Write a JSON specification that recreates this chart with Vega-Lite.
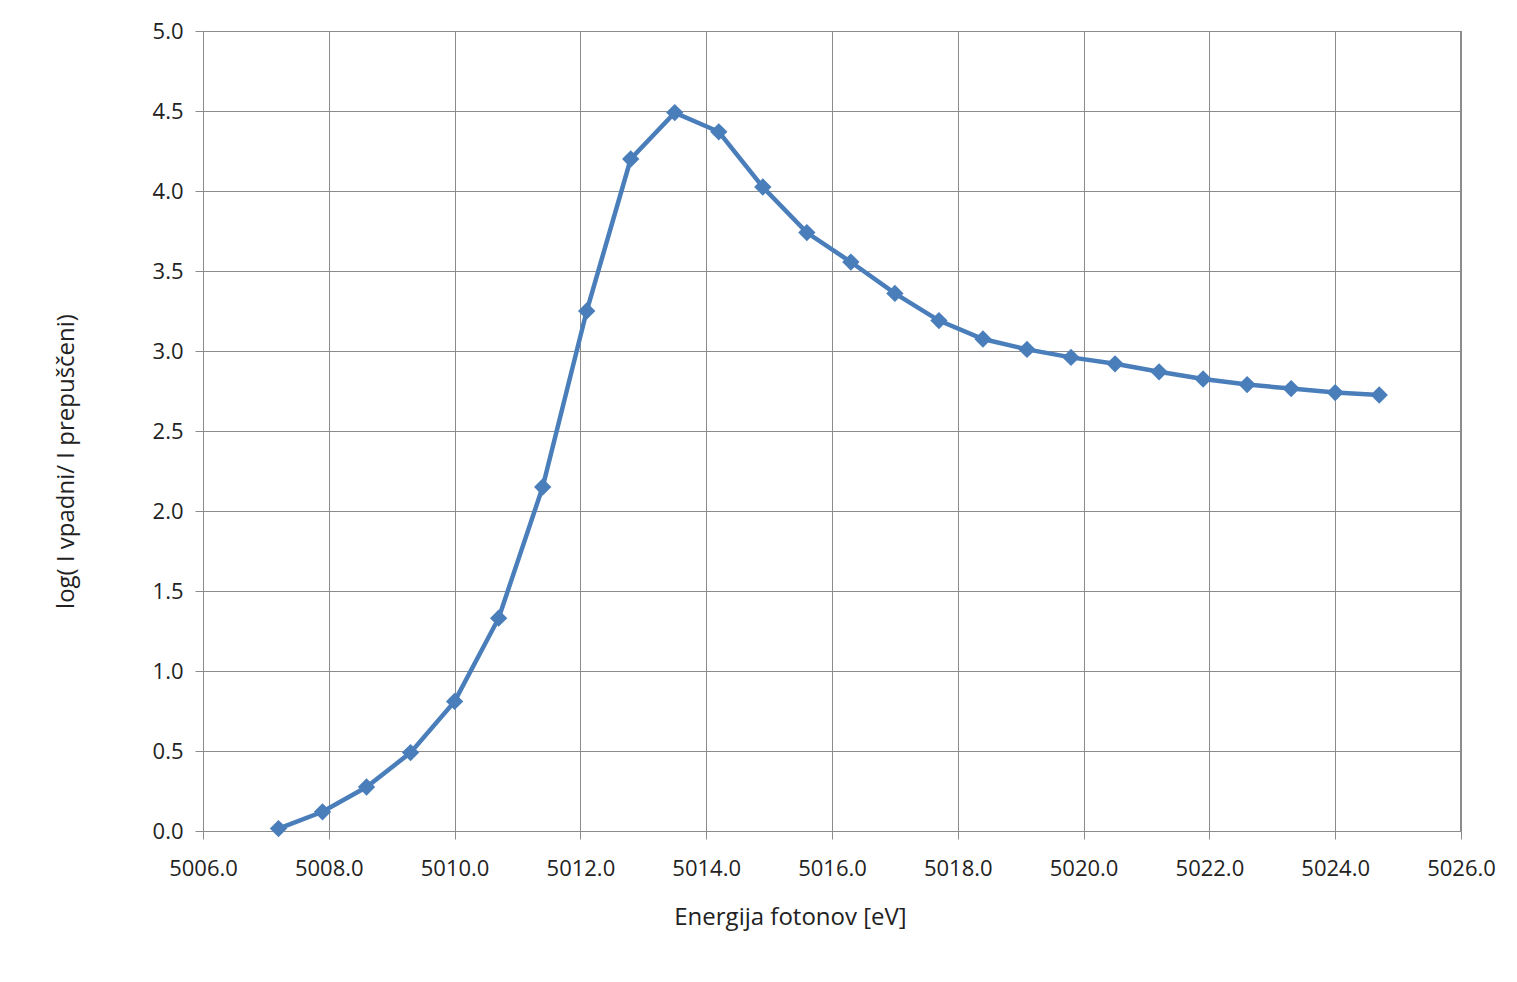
{
  "$schema": "https://vega.github.io/schema/vega-lite/v6.json",
  "width": 1258,
  "height": 800,
  "autosize": {"type": "none"},
  "padding": {"left": 203, "top": 31, "right": 56, "bottom": 151},
  "background": "white",
  "config": {
    "font": "Open Sans",
    "view": {"stroke": null}
  },
  "data": {
    "values": [
      {"E": 5007.2, "v": 0.015},
      {"E": 5007.9, "v": 0.12},
      {"E": 5008.6, "v": 0.275},
      {"E": 5009.3, "v": 0.49},
      {"E": 5010.0, "v": 0.81},
      {"E": 5010.7, "v": 1.33},
      {"E": 5011.4, "v": 2.15},
      {"E": 5012.1, "v": 3.25},
      {"E": 5012.8, "v": 4.2},
      {"E": 5013.5, "v": 4.49},
      {"E": 5014.2, "v": 4.37},
      {"E": 5014.9, "v": 4.025},
      {"E": 5015.6, "v": 3.74},
      {"E": 5016.3, "v": 3.556},
      {"E": 5017.0, "v": 3.36},
      {"E": 5017.7, "v": 3.19},
      {"E": 5018.4, "v": 3.075},
      {"E": 5019.1, "v": 3.01},
      {"E": 5019.8, "v": 2.96},
      {"E": 5020.5, "v": 2.92},
      {"E": 5021.2, "v": 2.87},
      {"E": 5021.9, "v": 2.825},
      {"E": 5022.6, "v": 2.79},
      {"E": 5023.3, "v": 2.765},
      {"E": 5024.0, "v": 2.74},
      {"E": 5024.7, "v": 2.725}
    ]
  },
  "encoding": {
    "x": {
      "field": "E",
      "type": "quantitative",
      "scale": {"domain": [5006, 5026], "nice": false, "zero": false},
      "axis": {
        "title": "Energija fotonov [eV]",
        "values": [5006, 5008, 5010, 5012, 5014, 5016, 5018, 5020, 5022, 5024, 5026],
        "format": ".1f",
        "grid": true,
        "gridColor": "#8c8c8c",
        "gridWidth": 1,
        "domainColor": "#8c8c8c",
        "tickColor": "#8c8c8c",
        "tickSize": 8,
        "labelFontSize": 22,
        "labelColor": "#222222",
        "labelPadding": 19,
        "labelFlush": false,
        "titleFontSize": 24,
        "titleFontWeight": "normal",
        "titleColor": "#222222",
        "titleX": 587,
        "titleY": 86,
        "titleBaseline": "middle",
        "titleAnchor": "middle"
      }
    },
    "y": {
      "field": "v",
      "type": "quantitative",
      "scale": {"domain": [0, 5], "nice": false},
      "axis": {
        "title": "log( I vpadni/ I prepuščeni)",
        "values": [0, 0.5, 1, 1.5, 2, 2.5, 3, 3.5, 4, 4.5, 5],
        "format": ".1f",
        "grid": true,
        "gridColor": "#8c8c8c",
        "gridWidth": 1,
        "domainColor": "#8c8c8c",
        "tickColor": "#8c8c8c",
        "tickSize": 8,
        "labelFontSize": 22,
        "labelColor": "#222222",
        "labelPadding": 12,
        "labelFlush": false,
        "titleFontSize": 24,
        "titleFontWeight": "normal",
        "titleColor": "#222222",
        "titleX": -137,
        "titleY": 430,
        "titleBaseline": "middle",
        "titleAnchor": "middle"
      }
    }
  },
  "layer": [
    {
      "mark": {"type": "line", "color": "#4a7ebb", "strokeWidth": 4.5}
    },
    {
      "mark": {"type": "point", "shape": "diamond", "filled": true, "color": "#4a7ebb", "opacity": 1, "size": 300}
    },
    {
      "mark": {"type": "rule", "color": "#8c8c8c", "strokeWidth": 1},
      "encoding": {"x": {"datum": 5026}, "y": null}
    }
  ]
}
